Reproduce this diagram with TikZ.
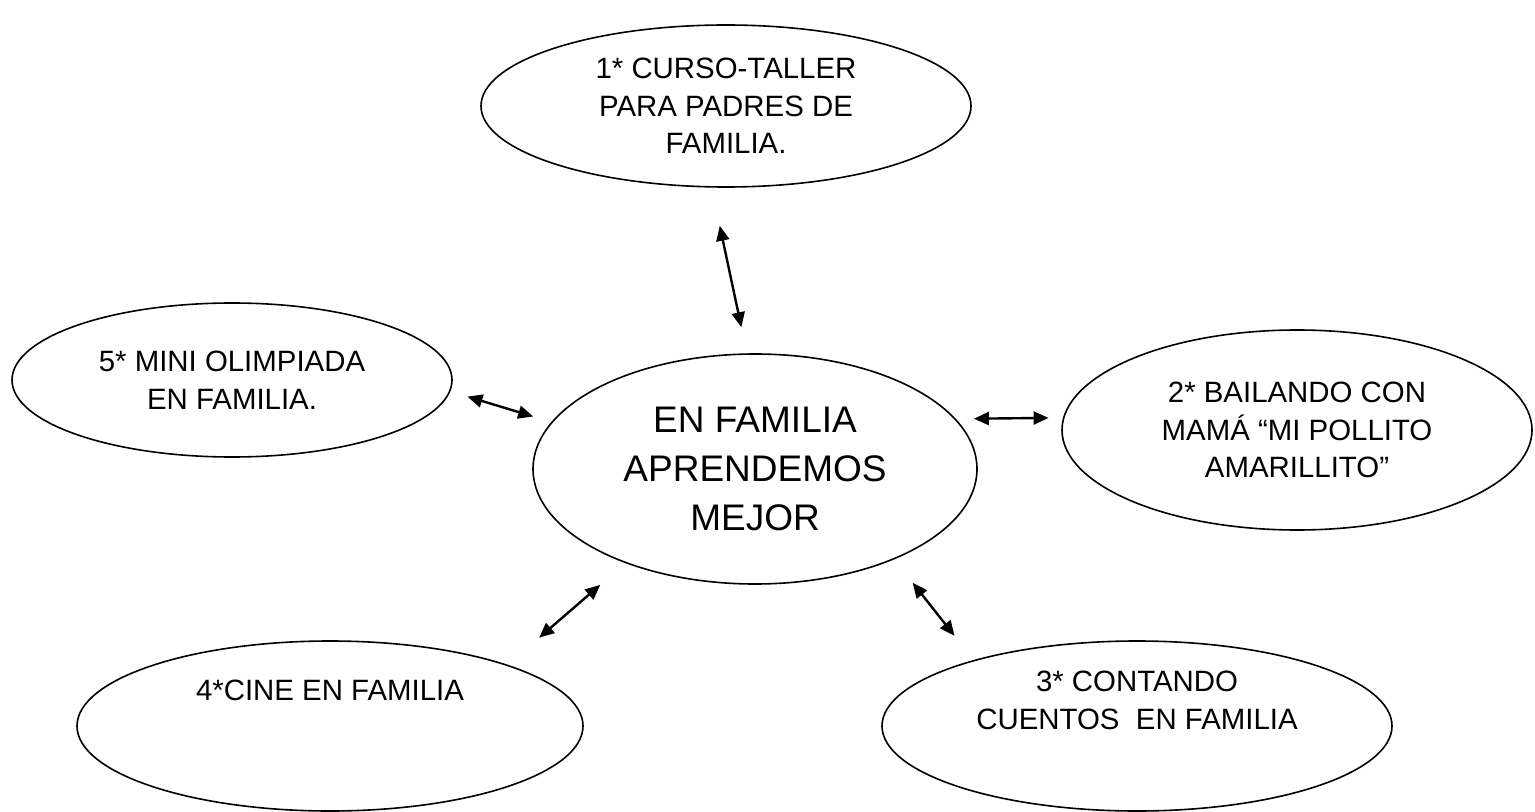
\documentclass[tikz,border=0pt]{standalone}
\usepackage{fontspec}
\setmainfont{Liberation Sans}
\usetikzlibrary{shapes.geometric,arrows.meta}

\begin{document}
\begin{tikzpicture}[x=0.5pt,y=-0.5pt,
	bubble/.style={draw,ellipse,line width=0.8pt,inner sep=0pt,align=center,font=\fontsize{14.7}{18.75}\selectfont},
	link/.style={<->,>={Triangle[length=7.5pt,width=6.5pt]},line width=1.2pt}]
	\useasboundingbox (0,0) rectangle (1535,812);

	\node[bubble,minimum width=245pt,minimum height=81pt] (taller) at (726,106) {1* CURSO-TALLER\\PARA PADRES DE\\FAMILIA.};
	
	\node[bubble,minimum width=220pt,minimum height=77pt] (olimp) at (232,380) {5* MINI OLIMPIADA\\EN FAMILIA.};
	
	\node[bubble,minimum width=222pt,minimum height=115pt,font=\fontsize{18.5}{24.5}\selectfont] (mid) at (755,469) {EN FAMILIA\\APRENDEMOS\\MEJOR};
	
	\node[bubble,minimum width=235pt,minimum height=100pt] (baile) at (1297,430) {2* BAILANDO CON\\MAM\'A ``MI POLLITO\\AMARILLITO''};
	
	\node[bubble,minimum width=253pt,minimum height=85pt,text depth=36pt] (cine) at (330,726) {4*CINE EN FAMILIA};
	
	\node[bubble,minimum width=255pt,minimum height=85pt,text depth=26pt] (cuentos) at (1137,726) {3* CONTANDO\\CUENTOS~~EN FAMILIA};

	\path [link]
		(taller.-100) edge[shorten <=19.5pt,shorten >=13.3pt] (mid.94)
		(olimp.-3.4) edge[shorten <=8.9pt,shorten >=9.5pt] (mid.167.4)
		(mid.14) edge[shorten <=9pt,shorten >=7.2pt] (baile.177.3)
		(mid.-144.9) edge[shorten <=16.6pt,shorten >=20.7pt] (cine.19.9)
		(mid.-33.6) edge[shorten <=14.9pt,shorten >=15.4pt] (cuentos.158.5);
\end{tikzpicture}
\end{document}
